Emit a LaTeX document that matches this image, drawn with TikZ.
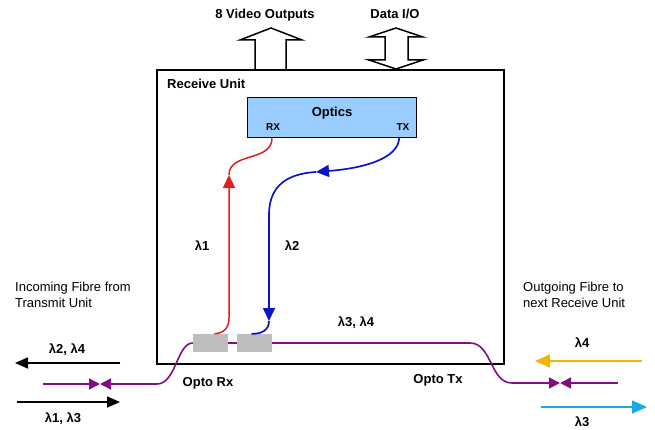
\documentclass[tikz,border=0pt]{standalone}
\usepackage{fontspec}
\setmainfont{Liberation Sans}
\usetikzlibrary{arrows.meta}
\definecolor{opticsblue}{RGB}{153,204,255}
\definecolor{portgrey}{RGB}{190,190,190}
\definecolor{fibrepurple}{RGB}{128,16,128}
\definecolor{rxred}{RGB}{225,30,30}
\definecolor{txblue}{RGB}{10,20,200}
\definecolor{lamorange}{RGB}{245,180,0}
\definecolor{lamcyan}{RGB}{30,168,225}
\tikzset{%
	unit/.style     = {draw, line width=1.6pt, rectangle, anchor=north west, inner sep=0pt},
	block/.style    = {draw, line width=1.2pt, rectangle, fill=opticsblue, anchor=north west, inner sep=0pt},
	port/.style     = {rectangle, fill=portgrey, minimum width=35pt, minimum height=18pt, inner sep=0pt},
	txt/.style      = {font=\fontsize{13}{15.5}\selectfont\bfseries, inner sep=0pt},
	note/.style     = {font=\fontsize{13}{15.5}\selectfont, inner sep=0pt, anchor=north west, align=left},
	small/.style    = {font=\fontsize{10}{12}\selectfont\bfseries, inner sep=0pt},
	fibre/.style    = {draw=fibrepurple, line width=1.6pt},
	redfibre/.style = {draw=rxred, line width=1.5pt},
	bluefibre/.style= {draw=txblue, line width=1.7pt},
	wire/.style     = {line width=1.6pt},
	fibretip/.style = {-{Triangle[length=11pt,width=11pt]}},
	lamtip/.style   = {-{Triangle[length=13pt,width=12pt]}},
	bigtip/.style   = {-{Triangle[length=13pt,width=11pt]}},
	hollow/.style   = {draw, line width=1.5pt, line join=miter}
}
\begin{document}
\begin{tikzpicture}[x=1pt,y=-1pt]
	\useasboundingbox (0,0) rectangle (655,430);

	% receive unit and optics
	\node[unit, minimum width=347pt, minimum height=294pt] (unit) at (156,69) {};
	\node[txt, anchor=west] (unitname) at (167,84) {Receive Unit};
	\node[block, minimum width=169pt, minimum height=40pt] (optics) at (247,97) {};
	\node[txt]   (opticsname) at (332,113) {Optics};
	\node[small] (rxname) at (273,127) {RX};
	\node[small] (txname) at (403,127) {TX};
	\node[port]  (rx) at (210.5,343) {};
	\node[port]  (tx) at (254.5,343) {};

	% outputs on top
	\node[txt] (video) at (265,15) {8 Video Outputs};
	\node[txt] (data)  at (395,14) {Data I/O};
	\draw[hollow] (255,69) -- (255,40) -- (240,40) -- (271,28) -- (302,40) -- (286,40) -- (286,69);
	\draw[hollow] (385,60) -- (369,60) -- (396,69) -- (423,60) -- (408,60) -- (408,37)
		-- (423,37) -- (396,28) -- (369,37) -- (385,37) -- cycle;

	% lambda 1 up to RX
	\coordinate (redtip) at (229,175);
	\draw[redfibre, lamtip] ([xshift=4pt]rx.north) .. controls (224,333) and (229,328) .. (229,318) -- (redtip);
	\draw[redfibre] (redtip) .. controls (229,152) and (272,162) .. ([xshift=25pt]optics.south west);
	\node[txt] (lamone) at (202,246) {λ1};

	% lambda 2 down from TX
	\coordinate (bluetipA) at (316,172);
	\coordinate (bluetipB) at (269,321);
	\draw[bluefibre, lamtip] ([xshift=-18pt]optics.south east) .. controls (398,158) and (366,168) .. (bluetipA);
	\draw[bluefibre, lamtip] (bluetipA) .. controls (282,174) and (269,190) .. (269,215) -- (bluetipB);
	\draw[bluefibre] (bluetipB) .. controls (269,330) and (262,334) .. ([xshift=-3pt]tx.north);
	\node[txt] (lamtwo) at (292,246) {λ2};

	% fibre through the unit
	\coordinate (fibreL) at (43,384);
	\coordinate (meetL)  at (100,384);
	\coordinate (bendL)  at (157,384);
	\coordinate (fibreR) at (618,383);
	\coordinate (meetR)  at (560,383);
	\coordinate (bendR)  at (512,383);
	\draw[fibre, fibretip] (fibreL) -- (meetL);
	\draw[fibre, fibretip] (rx.west) .. controls (177,343) and (176,384) .. (bendL) -- (meetL);
	\draw[fibre] (rx.east) -- (tx.west);
	\draw[fibre, fibretip] (tx.east) -- (470,343) .. controls (492,343) and (490,383) .. (bendR) -- (meetR);
	\draw[fibre, fibretip] (fibreR) -- (meetR);
	\node[txt] (lamthreefour) at (356,323) {λ3, λ4};
	\node[txt] (optorx) at (208,383) {Opto Rx};
	\node[txt] (optotx) at (438,380) {Opto Tx};

	% incoming side
	\node[note] (incoming) at (15,282) {Incoming Fibre from\\Transmit Unit};
	\coordinate (inAs) at (120,363);
	\coordinate (inAe) at (15,363);
	\coordinate (inBs) at (17,402);
	\coordinate (inBe) at (120,402);
	\draw[wire, bigtip] (inAs) -- (inAe);
	\draw[wire, bigtip] (inBs) -- (inBe);
	\node[txt] (lamtwofour)   at (67,350) {λ2, λ4};
	\node[txt] (lamonethree)  at (63,419) {λ1, λ3};

	% outgoing side
	\node[note] (outgoing) at (523,282) {Outgoing Fibre to\\next Receive Unit};
	\coordinate (outAs) at (642,361);
	\coordinate (outAe) at (535,361);
	\coordinate (outBs) at (541,407);
	\coordinate (outBe) at (647,407);
	\draw[wire, draw=lamorange, fill=lamorange, -{Triangle[length=15pt,width=13pt]}] (outAs) -- (outAe);
	\draw[wire, draw=lamcyan, fill=lamcyan, -{Triangle[length=15pt,width=13pt]}] (outBs) -- (outBe);
	\node[txt] (lamfour)  at (582,343) {λ4};
	\node[txt] (lamthree) at (582,422) {λ3};
\end{tikzpicture}
\end{document}
